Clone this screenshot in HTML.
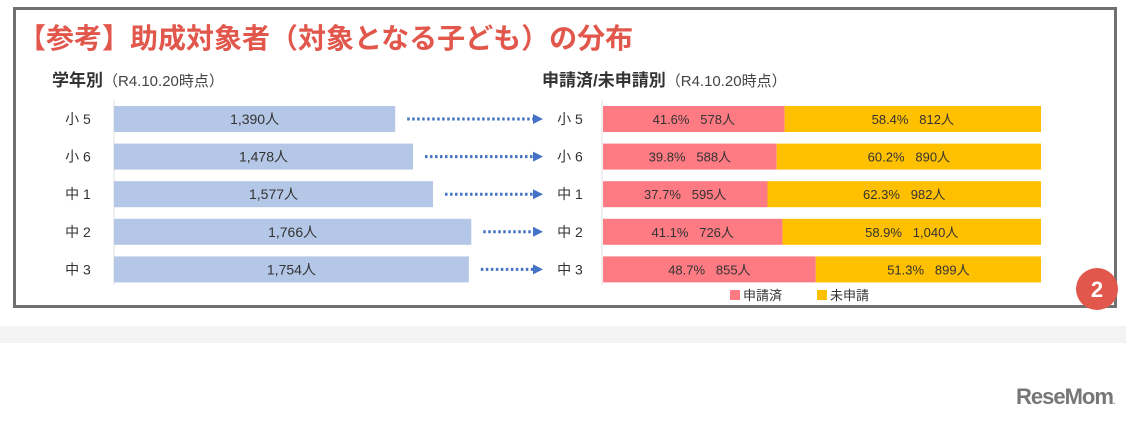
<!DOCTYPE html>
<html><head><meta charset="utf-8">
<style>
html,body{margin:0;padding:0;background:#fff;}
body{width:1126px;height:418px;overflow:hidden;font-family:"Liberation Sans","Noto Sans CJK JP",sans-serif;}
svg text{font-family:"Liberation Sans","Noto Sans CJK JP",sans-serif;white-space:pre;}
</style></head>
<body>
<svg id="chart" width="1126" height="418" viewBox="0 0 1126 418">
  <rect x="0" y="326" width="1126" height="17" fill="#f3f3f3"/>
  <rect x="14.5" y="8.5" width="1101" height="298" fill="#fff" stroke="#707070" stroke-width="3"/>
  <text x="18" y="48" font-size="28" font-weight="bold" fill="#e2574c">【参考】助成対象者（対象となる子ども）の分布</text>
  <text x="52" y="86" font-size="17" font-weight="bold" fill="#333">学年別<tspan font-weight="normal" font-size="15" fill="#444">（R4.10.20時点）</tspan></text>
  <text x="542" y="86" font-size="17" font-weight="bold" fill="#333">申請済/未申請別<tspan font-weight="normal" font-size="15" fill="#444">（R4.10.20時点）</tspan></text>
  <line x1="114" y1="100" x2="114" y2="285" stroke="#e0e0e0"/>
  <line x1="602" y1="100" x2="602" y2="285" stroke="#e0e0e0"/>
  <g id="marks"></g>
  <rect x="730" y="290" width="10" height="10" fill="#ff7b83"/>
  <text x="743" y="300" font-size="13" fill="#333">申請済</text>
  <rect x="817" y="290" width="10" height="10" fill="#ffc000"/>
  <text x="830" y="300" font-size="13" fill="#333">未申請</text>
  <circle cx="1097" cy="289" r="21" fill="#e2574c"/>
  <text x="1097" y="297" font-size="22" font-weight="bold" fill="#fff" text-anchor="middle">2</text>
  <text x="1016" y="404" font-size="22" font-weight="bold" fill="#777" letter-spacing="-1">ReseMom<tspan font-size="8">.</tspan></text>
</svg>
<script>
const grades = ["小 5","小 6","中 1","中 2","中 3"];
const totals = [1390,1478,1577,1766,1754];
const appliedPct = [41.6,39.8,37.7,41.1,48.7];
const appliedCount = [578,588,595,726,855];
const notAppliedPct = [58.4,60.2,62.3,58.9,51.3];
const notAppliedCount = [812,890,982,1040,899];

const NS="http://www.w3.org/2000/svg";
const g=document.getElementById('marks');
const xL=v=>114+v*0.2023;
const xR=p=>602+p/100*439;
const rowY=i=>106+i*37.6;
const BH=26;
function mk(tag,attrs,txt){const e=document.createElementNS(NS,tag);for(const k in attrs)e.setAttribute(k,attrs[k]);if(txt!==undefined)e.textContent=txt;g.appendChild(e);return e;}
const fmt=n=>n.toLocaleString('en-US');
grades.forEach((gr,i)=>{
  const y=rowY(i), cy=y+BH/2;
  let t=mk('text',{x:78,y:cy+5,'font-size':14,fill:'#333','text-anchor':'middle'},gr);
  
  
  const w=xL(totals[i])-114;
  let b=mk('rect',{x:114,y:y,width:w,height:BH,fill:'#b4c7e7'});
  
  
  t=mk('text',{x:114+w/2,y:cy+5,'font-size':14,fill:'#333','text-anchor':'middle'},fmt(totals[i])+'人');
  
  
  const x0=xL(totals[i])+12;
  let ln=mk('line',{x1:x0,y1:cy,x2:533,y2:cy,stroke:'#4472c4','stroke-width':3,'stroke-dasharray':'2.5 2.5'});
  
  
  let ah=mk('polygon',{points:`533,${cy-5} 543,${cy} 533,${cy+5}`,fill:'#4472c4'});
  
  
  t=mk('text',{x:570,y:cy+5,'font-size':14,fill:'#333','text-anchor':'middle'},gr);
  
  
  const xs=xR(appliedPct[i]);
  b=mk('rect',{x:603,y:y,width:xs-603,height:BH,fill:'#ff7b83'});
  
  
  b=mk('rect',{x:xs,y:y,width:xR(100)-xs,height:BH,fill:'#ffc000'});
  
  
  t=mk('text',{x:(603+xs)/2,y:cy+5,'font-size':13,fill:'#333','text-anchor':'middle'},appliedPct[i].toFixed(1)+'%   '+fmt(appliedCount[i])+'人');
  
  
  t=mk('text',{x:(xs+xR(100))/2,y:cy+5,'font-size':13,fill:'#333','text-anchor':'middle'},notAppliedPct[i].toFixed(1)+'%   '+fmt(notAppliedCount[i])+'人');
  
  
});
</script>
</body></html>
